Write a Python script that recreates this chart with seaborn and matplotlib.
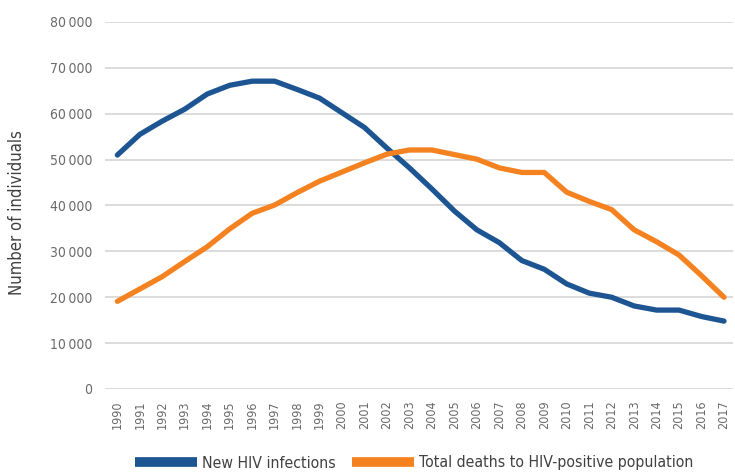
import matplotlib
matplotlib.use("Agg")
import matplotlib.pyplot as plt
import seaborn as sns
import pandas as pd
from matplotlib.lines import Line2D

years = list(range(1990, 2018))
new_infections = [51000, 55500, 58400, 61000, 64300, 66200, 67100, 67100, 65300, 63400,
                  60200, 57000, 52500, 48200, 43600, 38800, 34700, 31900, 28000, 26100,
                  22900, 20900, 20000, 18100, 17200, 17200, 15800, 14800]
total_deaths = [19100, 21800, 24500, 27800, 31000, 34900, 38300, 40100, 42800, 45300,
                47300, 49300, 51200, 52100, 52100, 51100, 50100, 48200, 47200, 47200,
                42900, 40900, 39100, 34700, 32100, 29200, 24700, 20000]
series_names = ["New HIV infections", "Total deaths to HIV-positive population"]
y_ticks = [0, 10000, 20000, 30000, 40000, 50000, 60000, 70000, 80000]

sns.set_theme(style="white")
plt.rcParams["font.family"] = ["DejaVu Sans"]
plt.rcParams["font.stretch"] = "condensed"

df = pd.DataFrame({
    "year": years * 2,
    "value": new_infections + total_deaths,
    "series": [series_names[0]] * len(years) + [series_names[1]] * len(years),
})

fig = plt.figure(figsize=(7.35, 4.74), dpi=100)
ax = fig.add_axes([105 / 735, 1 - 389 / 474, (733 - 105) / 735, (389 - 22) / 474])
palette = {series_names[0]: "#1C5592", series_names[1]: "#F58220"}
sns.lineplot(data=df, x="year", y="value", hue="series", palette=palette,
             linewidth=3.8, ax=ax, legend=False, solid_capstyle="round")

ax.set_ylim(0, 80000)
ax.set_xlim(1989.45, 2017.4)
ax.set_yticks(y_ticks)
ax.set_yticklabels([f"{v:,}".replace(",", "\u2009") for v in y_ticks])
ax.set_xticks(years)
ax.set_xticklabels([str(y) for y in years], rotation=90)
ax.yaxis.grid(True, color="#D9D9D9", linewidth=1.3)
ax.xaxis.grid(False)
for s in ax.spines.values():
    s.set_visible(False)
ax.tick_params(axis="both", colors="#6A6A6A", length=0)
ax.tick_params(axis="y", pad=9, labelsize=10)
ax.tick_params(axis="x", pad=8, labelsize=9)
ax.set_xlabel("")
ax.set_ylabel("Number of individuals", color="#404040", fontsize=12)
ax.yaxis.set_label_coords(-0.125, 0.48)

handles = [Line2D([0], [0], color=palette[n], linewidth=7, solid_capstyle="butt") for n in series_names]
fig.legend(handles, series_names, loc="center", bbox_to_anchor=(414 / 735, 1 - 463 / 474),
           ncol=2, frameon=False, fontsize=11.3, handlelength=4.0, columnspacing=1.0,
           handletextpad=0.3, labelcolor="#404040")

fig.savefig("out.png", dpi=100)
